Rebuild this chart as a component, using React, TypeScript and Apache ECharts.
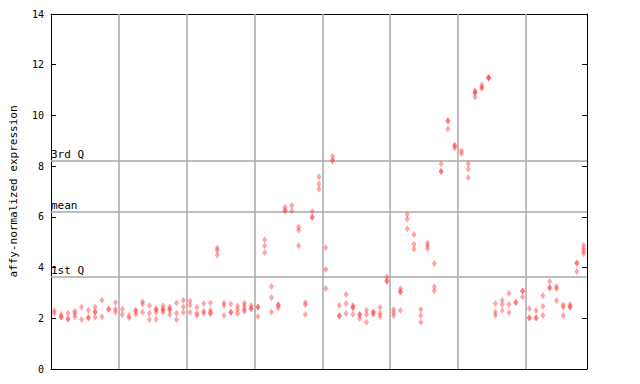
import React, { useEffect, useRef } from "react";
import * as echarts from "echarts";

// Values per sample (replicates); 8 groups of samples
const group1: number[][] = [
  [2.3, 2.2], [2.15, 2.05, 2.05], [2.2, 1.97, 1.97], [2.28, 2.19, 2.06], [2.45, 1.95],
  [2.32, 2.02, 2.02], [2.45, 2.25, 2.25, 2.04], [2.71, 2.06], [2.37, 2.35], [2.62, 2.36, 2.25],
];
const group2: number[][] = [
  [2.36, 2.15], [2.11, 2.02], [2.32, 2.3, 2.17], [2.65, 2.56, 2.24], [2.5, 2.2, 1.95],
  [2.37, 2.35, 2.24, 1.95], [2.48, 2.36, 2.34, 2.24], [2.45, 2.36, 2.34, 2.15], [2.6, 2.2, 1.95], [2.71, 2.45, 2.24],
];
const group3: number[][] = [
  [2.68, 2.51, 2.24], [2.44, 2.2, 2.11], [2.58, 2.28, 2.2], [2.6, 2.32, 2.21, 2.2], [4.77, 4.68, 4.5],
  [2.6, 2.5, 2.11], [2.56, 2.24, 2.23], [2.48, 2.35, 2.19], [2.6, 2.48, 2.36, 2.28], [2.5, 2.39, 2.38],
];
const group4: number[][] = [
  [2.45, 2.44, 2.07], [5.1, 4.86, 4.59], [3.25, 2.82, 2.25], [2.53, 2.52, 2.41], [6.38, 6.25, 6.24],
  [6.45, 6.24], [5.6, 5.47, 4.86], [2.62, 2.53, 2.15], [6.21, 5.98, 5.97], [7.58, 7.3, 7.1],
];
const group5: number[][] = [
  [4.78, 3.92, 3.17], [8.39, 8.23, 8.21], [2.5, 2.1, 2.09], [2.94, 2.58, 2.19], [2.5, 2.43, 2.42, 2.16],
  [2.15, 2.14, 1.99], [2.32, 2.15, 1.84], [2.25, 2.24, 2.15], [2.43, 2.19, 2.07], [3.63, 3.47, 3.46],
];
const group6: number[][] = [
  [2.35, 2.23, 2.11], [3.16, 3.05, 3.04, 2.31], [6.1, 5.91, 5.53], [5.3, 4.92, 4.73], [2.35, 2.11, 1.84],
  [4.97, 4.86, 4.75], [4.16, 3.24, 3.09], [8.09, 7.8, 7.79], [9.79, 9.78, 9.46], [8.81, 8.8, 8.72],
];
const group7: number[][] = [
  [8.61, 8.5], [8.09, 7.89, 7.54], [10.97, 10.9, 10.89, 10.73], [11.2, 11.09, 11.08], [11.5, 11.49, 11.48],
  [2.58, 2.25, 2.12], [2.71, 2.54, 2.31], [2.98, 2.54, 2.23], [2.63, 2.62], [3.08, 3.07, 2.84],
];
const group8: number[][] = [
  [2.39, 2.02, 2.01], [2.31, 2.02, 2.01], [2.9, 2.47, 2.11], [3.45, 3.2, 3.19], [3.24, 3.17, 2.7],
  [2.52, 2.45, 2.11], [2.54, 2.45, 2.44], [4.18, 4.17, 3.85], [4.88, 4.75, 4.65, 4.55],
];

const groups = [group1, group2, group3, group4, group5, group6, group7, group8];

// Summary lines
const quartileLines = [
  { name: "3rd Q", value: 8.21 },
  { name: "mean", value: 6.2 },
  { name: "1st Q", value: 3.62 },
];

const yTicks = [0, 2, 4, 6, 8, 10, 12, 14];

export default function App() {
  const ref = useRef<HTMLDivElement>(null);

  useEffect(() => {
    if (!ref.current) return;
    const chart = echarts.init(ref.current, undefined, { renderer: "svg" });

    const samples = groups.flat();
    const points: number[][] = [];
    samples.forEach((vals, i) => vals.forEach((v) => points.push([i, v])));
    const n = samples.length;

    const boundaries: number[] = [];
    let acc = 0;
    groups.slice(0, -1).forEach((g) => {
      acc += g.length;
      boundaries.push(acc - 0.5);
    });

    const mono = "DejaVu Sans Mono";

    chart.setOption({
      animation: false,
      backgroundColor: "#fff",
      grid: { left: 44, right: 53, top: 14, bottom: 15, containLabel: false },
      xAxis: [
        {
          type: "value",
          min: -0.5,
          max: n - 0.5,
          axisLine: { show: true, onZero: false, lineStyle: { color: "#000", width: 1 } },
          axisTick: { show: false },
          axisLabel: { show: false },
          splitLine: { show: false },
        },
        {
          type: "value",
          position: "top",
          min: -0.5,
          max: n - 0.5,
          axisLine: { show: true, onZero: false, lineStyle: { color: "#000", width: 1 } },
          axisTick: { show: false },
          axisLabel: { show: false },
          splitLine: { show: false },
        },
      ],
      yAxis: [
        {
          type: "value",
          min: 0,
          max: 14,
          interval: 2,
          name: "affy-normalized expression",
          nameLocation: "middle",
          nameGap: 32,
          nameTextStyle: { fontFamily: mono, fontSize: 11, color: "#000" },
          axisLine: { show: true, onZero: false, lineStyle: { color: "#000", width: 1 } },
          axisTick: { show: true, inside: true, length: 5, lineStyle: { color: "#000" } },
          axisLabel: {
            fontFamily: mono,
            fontSize: 10,
            color: "#000",
            margin: 7,
            formatter: (v: number) => (yTicks.includes(v) ? String(v) : ""),
          },
          splitLine: { show: false },
        },
        {
          type: "value",
          position: "right",
          min: 0,
          max: 14,
          interval: 2,
          axisLine: { show: true, onZero: false, lineStyle: { color: "#000", width: 1 } },
          axisTick: { show: true, inside: true, length: 5, lineStyle: { color: "#000" } },
          axisLabel: { show: false },
          splitLine: { show: false },
        },
      ],
      series: [
        {
          type: "scatter",
          xAxisIndex: 0,
          yAxisIndex: 0,
          symbol: "diamond",
          symbolSize: [5, 7],
          itemStyle: { color: "rgba(255,70,70,0.6)" },
          data: points,
          z: 5,
          markLine: {
            silent: true,
            symbol: "none",
            animation: false,
            lineStyle: { color: "#a8a8a8", width: 1.5, type: "solid" },
            label: { show: false },
            data: [
              ...boundaries.map((b) => ({ xAxis: b })),
              ...quartileLines.map((q) => ({
                yAxis: q.value,
                label: {
                  show: true,
                  position: "insideStartTop",
                  formatter: q.name,
                  fontFamily: mono,
                  fontSize: 11,
                  color: "#000",
                  distance: [0, 1],
                },
              })),
            ],
          },
        },
      ],
    });

    return () => chart.dispose();
  }, []);

  return (
    <div
      ref={ref}
      style={{ position: "absolute", left: 0, top: 0, width: 640, height: 384 }}
    />
  );
}
